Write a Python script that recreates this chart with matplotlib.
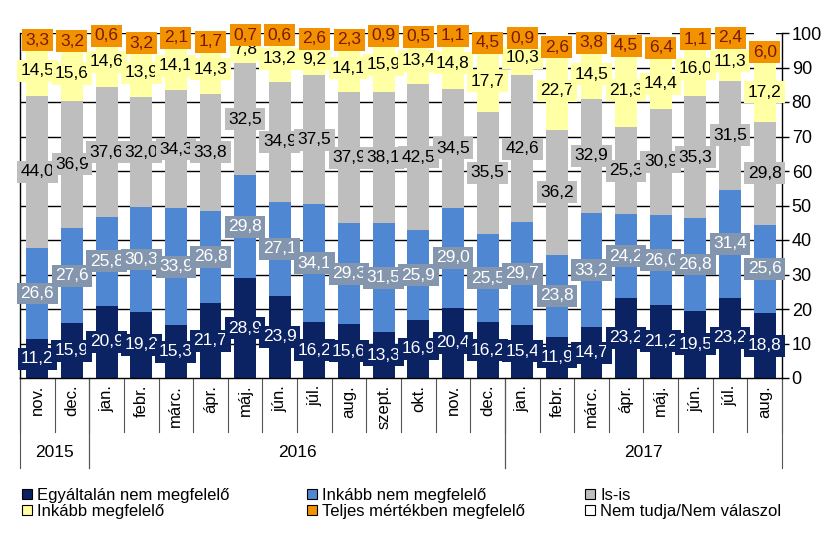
import matplotlib
matplotlib.use("Agg")
import matplotlib.pyplot as plt
from matplotlib.patches import Patch
from matplotlib.lines import Line2D
import matplotlib.transforms as mtransforms

months = ["nov.", "dec.", "jan.", "febr.", "márc.", "ápr.", "máj.", "jún.", "júl.", "aug.",
          "szept.", "okt.", "nov.", "dec.", "jan.", "febr.", "márc.", "ápr.", "máj.", "jún.",
          "júl.", "aug."]
years = ["2015", "2016", "2017"]
year_spans = [(0, 2), (2, 14), (14, 22)]

egyaltalan = [11.2, 15.9, 20.9, 19.2, 15.3, 21.7, 28.9, 23.9, 16.2, 15.6, 13.3, 16.9, 20.4,
              16.2, 15.4, 11.9, 14.7, 23.2, 21.2, 19.5, 23.2, 18.8]
inkabb_nem = [26.6, 27.6, 25.8, 30.3, 33.9, 26.8, 29.8, 27.1, 34.1, 29.3, 31.5, 25.9, 29.0,
              25.5, 29.7, 23.8, 33.2, 24.2, 26.0, 26.8, 31.4, 25.6]
isis = [44.0, 36.9, 37.6, 32.0, 34.3, 33.8, 32.5, 34.9, 37.5, 37.9, 38.1, 42.5, 34.5,
        35.5, 42.6, 36.2, 32.9, 25.3, 30.9, 35.3, 31.5, 29.8]
inkabb_megf = [14.5, 15.6, 14.6, 13.9, 14.1, 14.3, 7.8, 13.2, 9.2, 14.1, 15.9, 13.4, 14.8,
               17.7, 10.3, 22.7, 14.5, 21.3, 14.4, 16.0, 11.3, 17.2]
teljes = [3.3, 3.2, 0.6, 3.2, 2.1, 1.7, 0.7, 0.6, 2.6, 2.3, 0.9, 0.5, 1.1,
          4.5, 0.9, 2.6, 3.8, 4.5, 6.4, 1.1, 2.4, 6.0]
nem_tudja = [0.4, 0.8, 0.5, 1.4, 0.3, 1.7, 0.3, 0.3, 0.4, 0.8, 0.3, 0.8, 0.2,
             0.6, 1.1, 2.8, 0.9, 1.5, 1.1, 1.3, 0.2, 2.6]

series_names = ["Egyáltalán nem megfelelő", "Inkább nem megfelelő", "Is-is",
                "Inkább megfelelő", "Teljes mértékben megfelelő", "Nem tudja/Nem válaszol"]
series_vals = [egyaltalan, inkabb_nem, isis, inkabb_megf, teljes, nem_tudja]
bar_colors = ["#0B2263", "#4F87D2", "#BEBEBE", "#FFFFA3", "#F39200", "#FFFFFF"]
label_bg = ["#0B2263", "#8496AE", "#BEBEBE", "#FFFFA3", "#F39200", None]
label_fg = ["white", "white", "black", "black", "#7A1A00", None]

plt.rcParams['font.family'] = ['Liberation Sans', 'DejaVu Sans']

fig = plt.figure(figsize=(8.23, 5.33), dpi=100)
ax = fig.add_axes([20/823, 1-378/533, (782-20)/823, 345/533])

x = list(range(len(months)))
bottoms = [0.0]*len(months)
width = 0.63
for k, (vals, col) in enumerate(zip(series_vals, bar_colors)):
    ax.bar(x, vals, width, bottom=bottoms, color=col, edgecolor='none', zorder=2)
    if label_bg[k] is not None:
        for i, v in enumerate(vals):
            yc = bottoms[i] + v/2
            ax.text(i, yc, f"{v:.1f}".replace('.', ','), ha='center', va='center',
                    fontsize=12.5, color=label_fg[k], zorder=5+k, clip_on=False,
                    bbox=dict(boxstyle='square,pad=0.2', fc=label_bg[k], ec='none'))
    bottoms = [b + v for b, v in zip(bottoms, vals)]

ax.set_xlim(-0.5, len(months)-0.5)
ax.set_ylim(0, 100)
ax.set_yticks(range(0, 101, 10))
ax.yaxis.tick_right()
ax.tick_params(axis='y', direction='out', length=5, width=1, labelsize=13, pad=2)
ax.set_xticks([])
for y in range(10, 101, 10):
    ax.axhline(y, color='black', lw=1, zorder=1)
for s in ax.spines.values():
    s.set_color('black')
    s.set_linewidth(1)
ax.spines['top'].set_visible(False)

trans = mtransforms.blended_transform_factory(ax.transData, ax.transAxes)
for i, m in enumerate(months):
    ax.text(i, -0.02, m, rotation=90, ha='center', va='top', fontsize=12,
            transform=trans, clip_on=False)
for b in range(len(months)+1):
    ax.add_line(Line2D([b-0.5, b-0.5], [0, -0.157], transform=trans, color='#555555',
                       lw=0.8, clip_on=False))
for (s, e), yr in zip(year_spans, years):
    ax.add_line(Line2D([s-0.5, s-0.5], [0, -0.261], transform=trans, color='#555555',
                       lw=0.8, clip_on=False))
    ax.add_line(Line2D([e-0.5, e-0.5], [0, -0.261], transform=trans, color='#555555',
                       lw=0.8, clip_on=False))
    ax.text((s+e-1)/2, -0.215, yr, ha='center', va='center', fontsize=12.5,
            transform=trans, clip_on=False)

handles = [Patch(facecolor=c, edgecolor='black', linewidth=0.8) for c in bar_colors]
col_x = [22/823, 307/823, 585/823]
for c in range(3):
    idx = [c, c+3]
    fig.legend([handles[j] for j in idx], [series_names[j] for j in idx],
               loc='upper left', bbox_to_anchor=(col_x[c], 1-488/533), frameon=False,
               handlelength=0.6, handleheight=0.6, handletextpad=0.3,
               labelspacing=0.05, borderpad=0, borderaxespad=0,
               prop={'size': 12})

fig.savefig("out.png", dpi=100)
